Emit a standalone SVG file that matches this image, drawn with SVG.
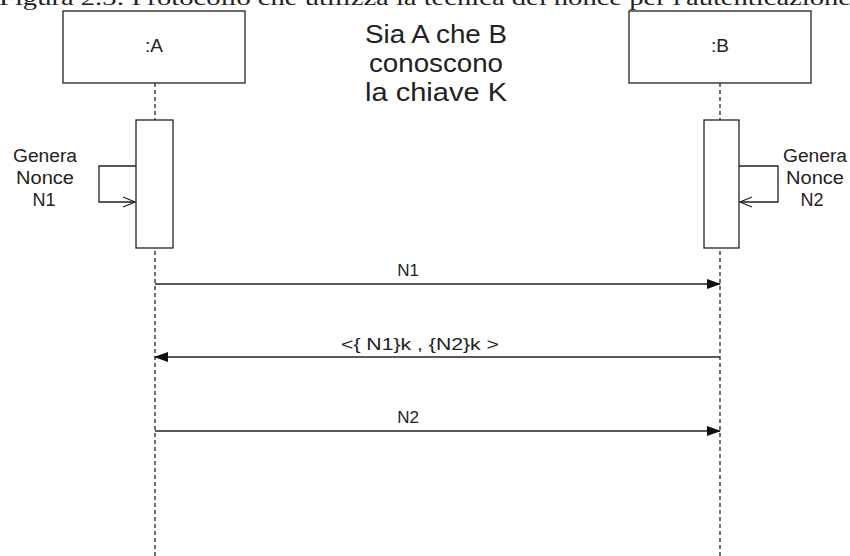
<svg xmlns="http://www.w3.org/2000/svg" width="850" height="556" viewBox="0 0 850 556">
<defs>
<style>
.box{fill:#fff;stroke:#222;stroke-width:1.3}
.life{stroke:#222;stroke-width:1.3;stroke-dasharray:4 3;fill:none}
.msg{stroke:#222;stroke-width:1.3;fill:none}
.t{font-family:"Liberation Sans",Arial,sans-serif;fill:#222;text-anchor:middle}
</style>
<marker id="fill" markerWidth="14" markerHeight="10" refX="13" refY="5" orient="auto" markerUnits="userSpaceOnUse">
<path d="M0,0 L14,5 L0,10 Z" fill="#111"/>
</marker>
<marker id="open" markerWidth="14" markerHeight="12" refX="13" refY="6" orient="auto" markerUnits="userSpaceOnUse">
<path d="M1,1 L13,6 L1,11" fill="none" stroke="#222" stroke-width="1.3"/>
</marker>
</defs>
<rect width="850" height="556" fill="#fff"/>
<text x="-1" y="5" font-family="'Liberation Serif',serif" font-size="21" fill="#222" textLength="852" lengthAdjust="spacingAndGlyphs">Figura 2.3: Protocollo che utilizza la tecnica dei nonce per l'autenticazione</text>
<g id="lifelineA">
<line class="life" x1="155" y1="83" x2="155" y2="556"/>
<rect class="box" x="63" y="11" width="182" height="72"/>
<text class="t" x="154" y="52" font-size="19">:A</text>
</g>
<g id="lifelineB">
<line class="life" x1="720" y1="83" x2="720" y2="556"/>
<rect class="box" x="629" y="11" width="182" height="72"/>
<text class="t" x="720" y="52" font-size="19">:B</text>
</g>
<g id="note">
<text class="t" x="436" y="43" font-size="25" textLength="142" lengthAdjust="spacingAndGlyphs">Sia A che B</text>
<text class="t" x="436" y="72" font-size="25" textLength="134" lengthAdjust="spacingAndGlyphs">conoscono</text>
<text class="t" x="436" y="101" font-size="25" textLength="142" lengthAdjust="spacingAndGlyphs">la chiave K</text>
</g>
<g id="activationA">
<rect class="box" x="136" y="120" width="37" height="128"/>
</g>
<g id="activationB">
<rect class="box" x="704" y="120" width="35" height="128"/>
</g>
<g id="connectors">
<path class="msg" d="M136,166 H99 V202 H135" marker-end="url(#open)"/>
<path class="msg" d="M739,166 H778 V202 H740" marker-end="url(#open)"/>
<line class="msg" x1="155" y1="284" x2="720" y2="284" marker-end="url(#fill)"/>
<line class="msg" x1="720" y1="357" x2="155" y2="357" marker-end="url(#fill)"/>
<line class="msg" x1="155" y1="431" x2="720" y2="431" marker-end="url(#fill)"/>
</g>
<g id="labels">
<text class="t" x="45" y="162" font-size="18" textLength="64" lengthAdjust="spacingAndGlyphs">Genera</text>
<text class="t" x="45" y="184" font-size="18" textLength="58" lengthAdjust="spacingAndGlyphs">Nonce</text>
<text class="t" x="44" y="206" font-size="18">N1</text>
<text class="t" x="815" y="162" font-size="18" textLength="64" lengthAdjust="spacingAndGlyphs">Genera</text>
<text class="t" x="815" y="184" font-size="18" textLength="58" lengthAdjust="spacingAndGlyphs">Nonce</text>
<text class="t" x="812" y="206" font-size="18">N2</text>
<text class="t" x="408" y="276" font-size="17">N1</text>
<text class="t" x="420" y="350" font-size="17" textLength="158" lengthAdjust="spacingAndGlyphs">&lt;{ N1}k , {N2}k &gt;</text>
<text class="t" x="408" y="423" font-size="17">N2</text>
</g>
</svg>
